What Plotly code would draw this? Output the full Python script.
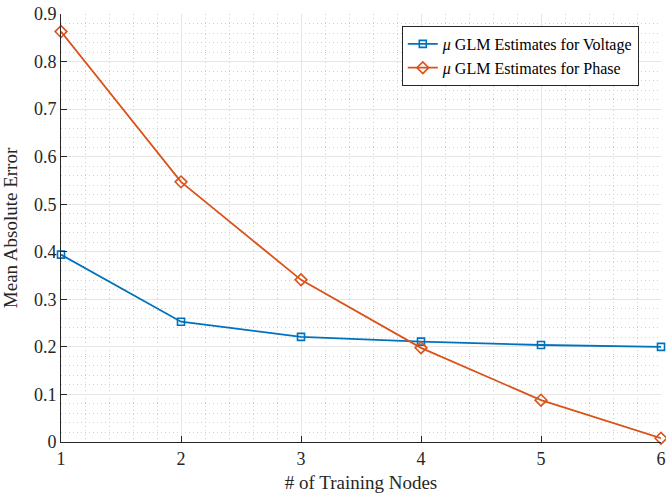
import plotly.graph_objects as go

nodes = [1, 2, 3, 4, 5, 6]
voltage_mae = [0.394, 0.253, 0.221, 0.211, 0.204, 0.200]
phase_mae = [0.863, 0.547, 0.341, 0.198, 0.088, 0.008]
x_ticks = [1, 2, 3, 4, 5, 6]
y_ticks = [0, 0.1, 0.2, 0.3, 0.4, 0.5, 0.6, 0.7, 0.8, 0.9]

FONT = "Liberation Serif"
AX = "#262626"

fig = go.Figure()
fig.add_trace(go.Scatter(
    x=nodes, y=voltage_mae, mode="lines+markers",
    name="<i>μ</i> GLM Estimates for Voltage",
    line=dict(color="#0072BD", width=1.8),
    marker=dict(symbol="square-open", size=7, color="#0072BD", line=dict(width=1.6)),
    cliponaxis=False,
))
fig.add_trace(go.Scatter(
    x=nodes, y=phase_mae, mode="lines+markers",
    name="<i>μ</i> GLM Estimates for Phase",
    line=dict(color="#D95319", width=1.8),
    marker=dict(symbol="diamond-open", size=9, color="#D95319", line=dict(width=1.6)),
    cliponaxis=False,
))

axis_common = dict(
    showline=True, linecolor=AX, linewidth=1, mirror=False,
    ticks="inside", ticklen=6, tickcolor=AX, tickwidth=1,
    tickfont=dict(family=FONT, size=18, color=AX),
    showgrid=True, gridcolor="#e6e6e6", gridwidth=1,
    zeroline=False, automargin=False,
)
minor_grid = dict(showgrid=True, griddash="1px,3px", gridcolor="#cfcfcf", gridwidth=1, ticks="")

fig.update_layout(
    width=666, height=493,
    margin=dict(l=61, r=5, t=14, b=51),
    paper_bgcolor="white", plot_bgcolor="white",
    showlegend=True,
    legend=dict(
        x=0.568, y=0.972, xanchor="left", yanchor="top",
        bgcolor="white", bordercolor=AX, borderwidth=1,
        font=dict(family=FONT, size=16, color="black"),
        tracegroupgap=0, itemwidth=30,
    ),
    xaxis=dict(
        range=[1, 6], tickvals=x_ticks, ticktext=[str(v) for v in x_ticks],
        title=dict(text="# of Training Nodes", font=dict(family=FONT, size=19, color=AX)),
        minor=dict(dtick=0.2, **minor_grid),
        **axis_common,
    ),
    yaxis=dict(
        range=[0, 0.9], tickvals=y_ticks, ticktext=[("0" if v == 0 else f"{v:.1f}") for v in y_ticks],
        title=dict(text="Mean Absolute Error", font=dict(family=FONT, size=19, color=AX)),
        minor=dict(dtick=0.02, **minor_grid),
        **axis_common,
    ),
)

fig.write_html("out.html", config={"displayModeBar": False},
               post_script="document.body.style.margin='0px';")
